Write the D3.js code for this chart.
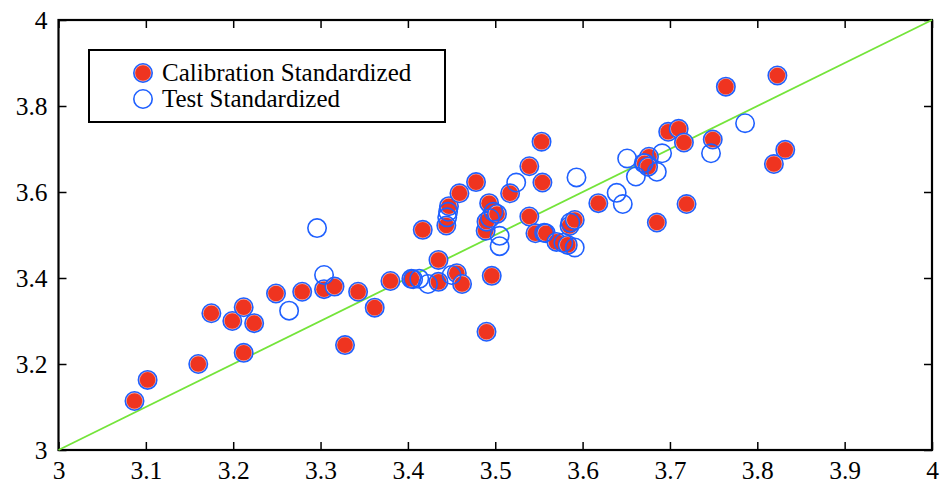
<!DOCTYPE html>
<html>
<head>
<meta charset="utf-8">
<script src="https://cdn.jsdelivr.net/npm/d3@7"></script>
<style>
  body { margin: 0; background: #fff; }
  .chart text { font-family: "Liberation Serif", "Times New Roman", serif; }
</style>
</head>
<body>
<div class="chart"></div>
<script>
let calX = [3.087, 3.102, 3.160, 3.212, 3.175, 3.199, 3.212, 3.224, 3.249, 3.279,
    3.304, 3.316, 3.343, 3.362, 3.328, 3.380, 3.404, 3.435, 3.435, 3.456,
    3.462, 3.417, 3.444, 3.447, 3.459, 3.478, 3.493, 3.489, 3.490, 3.502,
    3.496, 3.490, 3.553, 3.539, 3.554, 3.517, 3.618, 3.539, 3.546, 3.558,
    3.570, 3.583, 3.585, 3.591, 3.698, 3.710, 3.716, 3.749, 3.676, 3.671,
    3.675, 3.719, 3.685, 3.764, 3.823, 3.832, 3.819]
let calY = [3.114, 3.163, 3.200, 3.226, 3.318, 3.300, 3.332, 3.295, 3.364, 3.368,
    3.374, 3.380, 3.368, 3.331, 3.244, 3.393, 3.398, 3.442, 3.391, 3.411,
    3.386, 3.512, 3.522, 3.567, 3.597, 3.623, 3.574, 3.510, 3.531, 3.549,
    3.405, 3.275, 3.717, 3.660, 3.622, 3.597, 3.574, 3.543, 3.504, 3.504,
    3.484, 3.477, 3.521, 3.535, 3.740, 3.747, 3.715, 3.722, 3.682, 3.667,
    3.659, 3.572, 3.529, 3.845, 3.871, 3.698, 3.665]

let testX = [3.264, 3.304, 3.296, 3.406, 3.413, 3.423, 3.450, 3.445, 3.446, 3.505,
    3.505, 3.494, 3.498, 3.524, 3.593, 3.556, 3.578, 3.591, 3.586, 3.651,
    3.691, 3.685, 3.661, 3.670, 3.639, 3.646, 3.747, 3.786]
let testY = [3.324, 3.407, 3.516, 3.397, 3.398, 3.386, 3.407, 3.541, 3.554, 3.474,
    3.498, 3.539, 3.554, 3.622, 3.634, 3.505, 3.482, 3.471, 3.529, 3.678,
    3.690, 3.647, 3.636, 3.667, 3.598, 3.572, 3.690, 3.760]

let xTicks = [3, 3.1, 3.2, 3.3, 3.4, 3.5, 3.6, 3.7, 3.8, 3.9, 4]
let yTicks = [3, 3.2, 3.4, 3.6, 3.8, 4]
let legendLabels = ['Calibration Standardized', 'Test Standardized']

let red = '#ef3420'
let blue = '#1f60ff'

var margin = { top: 20, right: 8, bottom: 34, left: 58.5 };
var width = 940 - margin.left - margin.right;
var height = 484 - margin.top - margin.bottom;

let svg = d3.select('.chart')
    .append('svg')
    .attr('width', 940)
    .attr('height', 484)
    .append('g')
    .attr('transform', `translate(${margin.left},${margin.top})`)

var xScale = d3.scaleLinear().domain([3, 4]).range([0, width]);
var yScale = d3.scaleLinear().domain([3, 4]).range([height, 0]);

// inward ticks on all four sides
function styleAxis(g) {
    g.select('.domain').remove()
    g.selectAll('line').attr('stroke', '#000').attr('stroke-width', 1.5)
    g.selectAll('text').attr('fill', '#000').style('font-size', '25.5px')
}

svg.append('g')
    .attr('transform', `translate(0, ${height})`)
    .call(d3.axisBottom(xScale).tickValues(xTicks).tickFormat(String)
        .tickSizeInner(-8).tickSizeOuter(0).tickPadding(11))
    .call(styleAxis)

svg.append('g')
    .call(d3.axisTop(xScale).tickValues(xTicks).tickFormat('')
        .tickSizeInner(-8).tickSizeOuter(0))
    .call(styleAxis)

svg.append('g')
    .call(d3.axisLeft(yScale).tickValues(yTicks).tickFormat(String)
        .tickSizeInner(-8).tickSizeOuter(0).tickPadding(11))
    .call(styleAxis)

svg.append('g')
    .attr('transform', `translate(${width}, 0)`)
    .call(d3.axisRight(yScale).tickValues(yTicks).tickFormat('')
        .tickSizeInner(-8).tickSizeOuter(0))
    .call(styleAxis)

// frame
svg.append('rect')
    .attr('x', 0)
    .attr('y', 0)
    .attr('width', width)
    .attr('height', height)
    .attr('fill', 'none')
    .attr('stroke', '#000')
    .attr('stroke-width', 2.2)

// y = x line
svg.append('line')
    .attr('x1', xScale(3))
    .attr('y1', yScale(3))
    .attr('x2', xScale(4))
    .attr('y2', yScale(4))
    .attr('stroke', '#74e43a')
    .attr('stroke-width', 1.8)

function redMarker(sel) {
    sel.append('circle')
        .attr('r', 9.2)
        .attr('fill', '#f7b9ae')
        .attr('stroke', blue)
        .attr('stroke-width', 1.6)
    sel.append('circle')
        .attr('r', 7.8)
        .attr('fill', red)
}

svg.selectAll('.cal')
    .data(calX)
    .enter()
    .append('g')
    .attr('class', 'cal')
    .attr('transform', (d, i) => `translate(${xScale(d)},${yScale(calY[i])})`)
    .call(redMarker)

svg.selectAll('.test')
    .data(testX)
    .enter()
    .append('circle')
    .attr('class', 'test')
    .attr('cx', d => xScale(d))
    .attr('cy', (d, i) => yScale(testY[i]))
    .attr('r', 9.2)
    .attr('fill', 'none')
    .attr('stroke', blue)
    .attr('stroke-width', 1.6)

// legend
let legend = svg.append('g')
    .attr('transform', `translate(${89 - margin.left},${50 - margin.top})`)

legend.append('rect')
    .attr('width', 356)
    .attr('height', 72)
    .attr('fill', '#fff')
    .attr('stroke', '#000')
    .attr('stroke-width', 2)

legend.append('g')
    .attr('transform', 'translate(54,23)')
    .call(redMarker)

legend.append('circle')
    .attr('cx', 54)
    .attr('cy', 49)
    .attr('r', 9.2)
    .attr('fill', 'none')
    .attr('stroke', blue)
    .attr('stroke-width', 1.6)

legend.selectAll('text')
    .data(legendLabels)
    .enter()
    .append('text')
    .attr('x', 73)
    .attr('y', (d, i) => 31 + i * 26)
    .style('font-size', '25px')
    .text(d => d)
</script>
</body>
</html>
